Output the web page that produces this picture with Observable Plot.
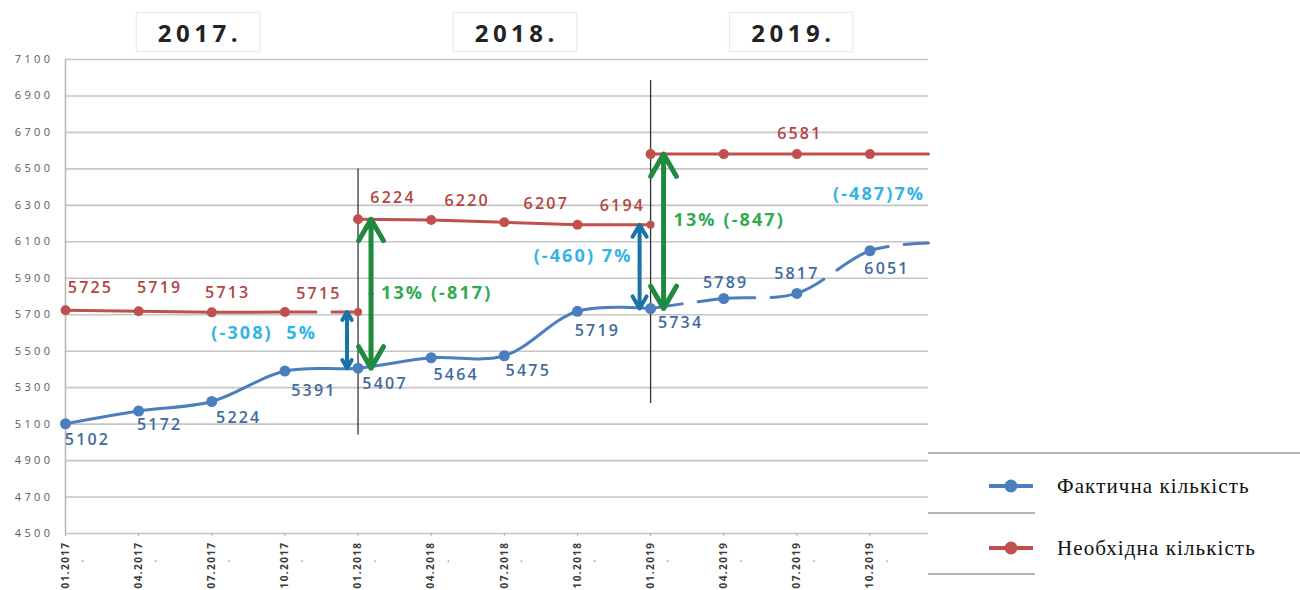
<!DOCTYPE html>
<html>
<head>
<meta charset="utf-8">
<script src="https://cdn.jsdelivr.net/npm/d3@7"></script>
<script src="https://cdn.jsdelivr.net/npm/@observablehq/plot@0.6"></script>
<style>
  body { margin: 0; background: #fff; }
  #wrap { position: relative; width: 1300px; height: 590px; overflow: hidden; background: #fff; }
  #wrap > svg { position: absolute; left: 0; top: 0; }
  .year { position: absolute; top: 12px; height: 40px; border: 1px solid #ebebeb; box-shadow: 0 0 3px #f2f2f2;
          font: bold 24px "Open Sans", sans-serif; letter-spacing: 4.5px; color: #232323; padding-left: 4px;
          display: flex; align-items: center; justify-content: center; box-sizing: border-box; }
  .lg-line { position: absolute; height: 2px; background: #b3b3b3; }
  .lg-item { position: absolute; left: 985px; height: 30px; display: flex; align-items: center; }
  .lg-item svg { position: static; display: block; }
  .lg-text { margin-left: 24px; font: 21px "Liberation Serif", "DejaVu Serif", serif; letter-spacing: 1.1px; color: #111; white-space: nowrap; }
  g[aria-label="text"][font-size="16"] text { letter-spacing: 2.2px; }
  g[aria-label="text"][font-size="18"] text { letter-spacing: 2.1px; }
  g[aria-label="y-axis tick label"] text { letter-spacing: 3.4px; }
  g[aria-label="x-axis tick label"] text { letter-spacing: 1.4px; }
</style>
</head>
<body>
<div id="wrap"></div>
<script>
// ---------- data ----------
const tickMonths = [0, 3, 6, 9, 12, 15, 18, 21, 24, 27, 30, 33];
const tickLabels = ["01.2017", "04.2017", "07.2017", "10.2017", "01.2018", "04.2018",
                    "07.2018", "10.2018", "01.2019", "04.2019", "07.2019", "10.2019"];
const yTicks = [4500, 4700, 4900, 5100, 5300, 5500, 5700, 5900, 6100, 6300, 6500, 6700, 6900, 7100];

// Фактична кількість (actual) — month index from 01.2017
const factMonths = [0, 3, 6, 9, 12, 15, 18, 21, 24, 27, 30, 33, 35.4];
const factValues = [5102, 5172, 5224, 5391, 5407, 5464, 5475, 5719, 5734, 5789, 5817, 6051, 6094];
const factLabelled = [true, true, true, true, true, true, true, true, true, true, true, true, false];

// Необхідна кількість (required)
const reqMonths = [0, 3, 6, 9, 12, 12, 15, 18, 21, 24, 24, 27, 30, 33, 35.4];
const reqValues = [5725, 5719, 5713, 5715, 5715, 6224, 6220, 6207, 6194, 6194, 6581, 6581, 6581, 6581, 6581];
const reqYear = ["2017", "2017", "2017", "2017", "2017", "2018", "2018", "2018", "2018", "2018",
                 "2019", "2019", "2019", "2019", "2019"];
const reqLabelled = [true, true, true, true, false, true, true, true, true, false, false, false, true, false, false];
const reqEndOfYear = [false, false, false, false, true, false, false, false, false, true, false, false, false, false, false];

// year boundaries and gaps
const years = ["2017.", "2018.", "2019."];
const boundaryMonths = [12, 24];
const boundaryTop = [6500, 6985];
const boundaryBottom = [5040, 5213];
const gapFact = [5407, 5734];
const gapPrevReq = [5715, 6194];
const gapNewReq = [6224, 6581];
const gapShortText = ["(-308)  5%", "(-460) 7%"];
const gapLongText = ["13% (-817)", "13% (-847)"];
const endGapText = "(-487)7%";
const endGapMonth = 33;
const endGapValue = 6581 - 487 * 0.45;

// ---------- layout (not data) ----------
const factDx = [22, 21, 27, 29, 27, 25, 24, 20, 30, 2, 0, 17];
const factDy = [16, 14, 16, 20, 16, 17, 15, 20, 14, -16, -20, 18];
const reqDxList = [25, 21, 16, 34, 35, 36, 42, 45, 3];
const reqDyList = [-22, -23, -19, -18, -21, -19, -18, -19, -20];
const yearCenterMonths = [5.45, 18.45, 29.8];
const shortNoteDx = [-41, -18];
const shortNoteFrac = [0.38, 0.38];
const longNoteFrac = [0.50, 0.43];

const BLUE = "#4a7ebf", RED = "#c0504d", BLUE_TXT = "#43699e", RED_TXT = "#b3443f";
const CYAN = "#33b3e6", GREEN_TXT = "#2fab50", GREEN_ARROW = "#1f8b3f", BLUE_ARROW = "#1b72a6";
const FONT = "'Open Sans', Lato, sans-serif";

// tables
const fact = factMonths.map((m, i) => ({m, v: factValues[i], lab: factLabelled[i]}));
const factSolid = fact.filter(d => d.m <= 24);
const factDashed = fact.filter(d => d.m >= 24);
const req = reqMonths.map((m, i) => ({m, v: reqValues[i], year: reqYear[i], lab: reqLabelled[i], end: reqEndOfYear[i]}));
const reqDots = req.filter(d => d.m !== 35.4);
const gaps = boundaryMonths.map((m, i) => ({m, top: boundaryTop[i], bottom: boundaryBottom[i],
  fact: gapFact[i], prev: gapPrevReq[i], next: gapNewReq[i], st: gapShortText[i], lt: gapLongText[i],
  sdx: shortNoteDx[i], sf: shortNoteFrac[i], lf: longNoteFrac[i]}));

const factLabels = fact.filter(d => d.lab).map((d, k) => ({...d, dx: factDx[k], dy: factDy[k]}));
const reqLabels = req.filter(d => d.lab).map((d, k) => ({...d, dx: reqDxList[k], dy: reqDyList[k]}));

const marks = [
  Plot.gridY(yTicks, {stroke: "#c6c6c6", strokeOpacity: 1, strokeWidth: 1.6}),
  Plot.ruleX([0], {y1: 4500, y2: 7100, stroke: "#b9b9b9", strokeWidth: 1.6}),
  Plot.axisY(yTicks, {tickSize: 0, tickPadding: 12, fontSize: 11, fill: "#5a5a5a", fontFamily: FONT,
    tickFormat: d => String(d), label: null}),
  Plot.axisX(tickMonths, {tickFormat: d => tickLabels[tickMonths.indexOf(d)], tickRotate: -90, label: null,
    tickSize: 3, tickPadding: 5, fontSize: 10, fontWeight: "bold", fill: "#3c3c3c", stroke: "#aaa", fontFamily: FONT}),
  Plot.text(tickMonths, {x: d => d + 0.7, frameAnchor: "bottom", dy: 32, text: () => "·", fill: "#9a9a9a", fontSize: 12}),
  // boundaries
  Plot.ruleX(gaps, {x: "m", y1: "top", y2: "bottom", stroke: "#333", strokeWidth: 1.3}),
  // required line
  Plot.line(req.filter(d => !(d.year === "2017" && d.m > 9)), {x: "m", y: "v", z: "year", stroke: RED, strokeWidth: 3}),
  Plot.line(req.filter(d => d.year === "2017" && d.m >= 9), {x: "m", y: "v", stroke: RED, strokeWidth: 3, strokeDasharray: "31,16"}),
  Plot.dot(reqDots.filter(d => !d.end), {x: "m", y: "v", r: 5, fill: RED}),
  Plot.dot(reqDots.filter(d => d.end), {x: "m", y: "v", r: 4, fill: RED}),
  // actual line
  Plot.line(factSolid, {x: "m", y: "v", stroke: BLUE, strokeWidth: 3, curve: "catmull-rom"}),
  Plot.line(factDashed, {x: "m", y: "v", stroke: BLUE, strokeWidth: 3, curve: "catmull-rom", strokeDasharray: "57,16", strokeDashoffset: 25}),
  Plot.dot(fact.filter(d => d.m !== 35.4), {x: "m", y: "v", r: 5.5, fill: BLUE}),
  // value labels
  ...factLabels.map(d => Plot.text([d], {x: "m", y: "v", text: d => String(d.v), dx: d.dx, dy: d.dy,
    fill: BLUE_TXT, fontSize: 16, fontWeight: 600, fontFamily: FONT})),
  ...reqLabels.map(d => Plot.text([d], {x: "m", y: "v", text: d => String(d.v), dx: d.dx, dy: d.dy,
    fill: RED_TXT, fontSize: 16, fontWeight: 600, fontFamily: FONT})),
  // double arrows (short gap: blue, long gap: green)
  Plot.arrow(gaps, {x1: "m", x2: "m", y1: d => (d.prev + d.fact) / 2, y2: "prev", dx: -11, stroke: BLUE_ARROW, strokeWidth: 4, headLength: 8}),
  Plot.arrow(gaps, {x1: "m", x2: "m", y1: d => (d.prev + d.fact) / 2, y2: "fact", dx: -11, stroke: BLUE_ARROW, strokeWidth: 4, headLength: 8}),
  Plot.arrow(gaps, {x1: "m", x2: "m", y1: d => (d.next + d.fact) / 2, y2: "next", dx: 13, stroke: GREEN_ARROW, strokeWidth: 5, headLength: 9}),
  Plot.arrow(gaps, {x1: "m", x2: "m", y1: d => (d.next + d.fact) / 2, y2: "fact", dx: 13, stroke: GREEN_ARROW, strokeWidth: 5, headLength: 9}),
  // gap notes
  ...gaps.map(g => Plot.text([g], {x: "m", y: d => d.prev - (d.prev - d.fact) * d.sf, text: "st", textAnchor: "end", dx: g.sdx,
    fill: CYAN, fontSize: 18, fontWeight: "bold", fontFamily: FONT})),
  Plot.text(gaps, {x: "m", y: d => d.next - (d.next - d.fact) * d.lf, text: "lt", textAnchor: "start", dx: 23,
    fill: GREEN_TXT, fontSize: 18, fontWeight: "bold", fontFamily: FONT}),
  Plot.text([endGapText], {x: endGapMonth, y: endGapValue, text: d => d, textAnchor: "start", dx: -37,
    fill: CYAN, fontSize: 18, fontWeight: "bold", fontFamily: FONT})
];

const chart = Plot.plot({
  width: 1300, height: 590,
  marginLeft: 65, marginRight: 372, marginTop: 59, marginBottom: 57,
  style: {background: "transparent", overflow: "visible"},
  x: {type: "linear", domain: [0, 35.4], axis: null, label: null},
  y: {domain: [4500, 7100], axis: null, label: null},
  marks
});

const wrap = document.getElementById("wrap");
wrap.appendChild(chart);

// year boxes
const xs = chart.scale("x");
years.forEach((t, i) => {
  const d = document.createElement("div");
  d.className = "year";
  d.textContent = t;
  const cx = xs.apply(yearCenterMonths[i]);
  d.style.left = (cx - 62) + "px";
  d.style.width = "124px";
  wrap.appendChild(d);
});

// legend
function addLine(left, top, width) {
  const l = document.createElement("div");
  l.className = "lg-line";
  l.style.left = left + "px"; l.style.top = top + "px"; l.style.width = width + "px";
  wrap.appendChild(l);
}
addLine(928, 452, 372);
addLine(928, 512, 107);
addLine(928, 573, 107);
const legendItems = [{label: "Фактична кількість", color: BLUE, top: 471}, {label: "Необхідна кількість", color: RED, top: 533}];
legendItems.forEach(it => {
  const d = document.createElement("div");
  d.className = "lg-item";
  d.style.top = it.top + "px";
  d.innerHTML = `<svg width="48" height="30"><line x1="4" y1="15" x2="48" y2="15" stroke="${it.color}" stroke-width="4"/><circle cx="26" cy="15" r="6.5" fill="${it.color}"/></svg><span class="lg-text">${it.label}</span>`;
  wrap.appendChild(d);
});
</script>
</body>
</html>
